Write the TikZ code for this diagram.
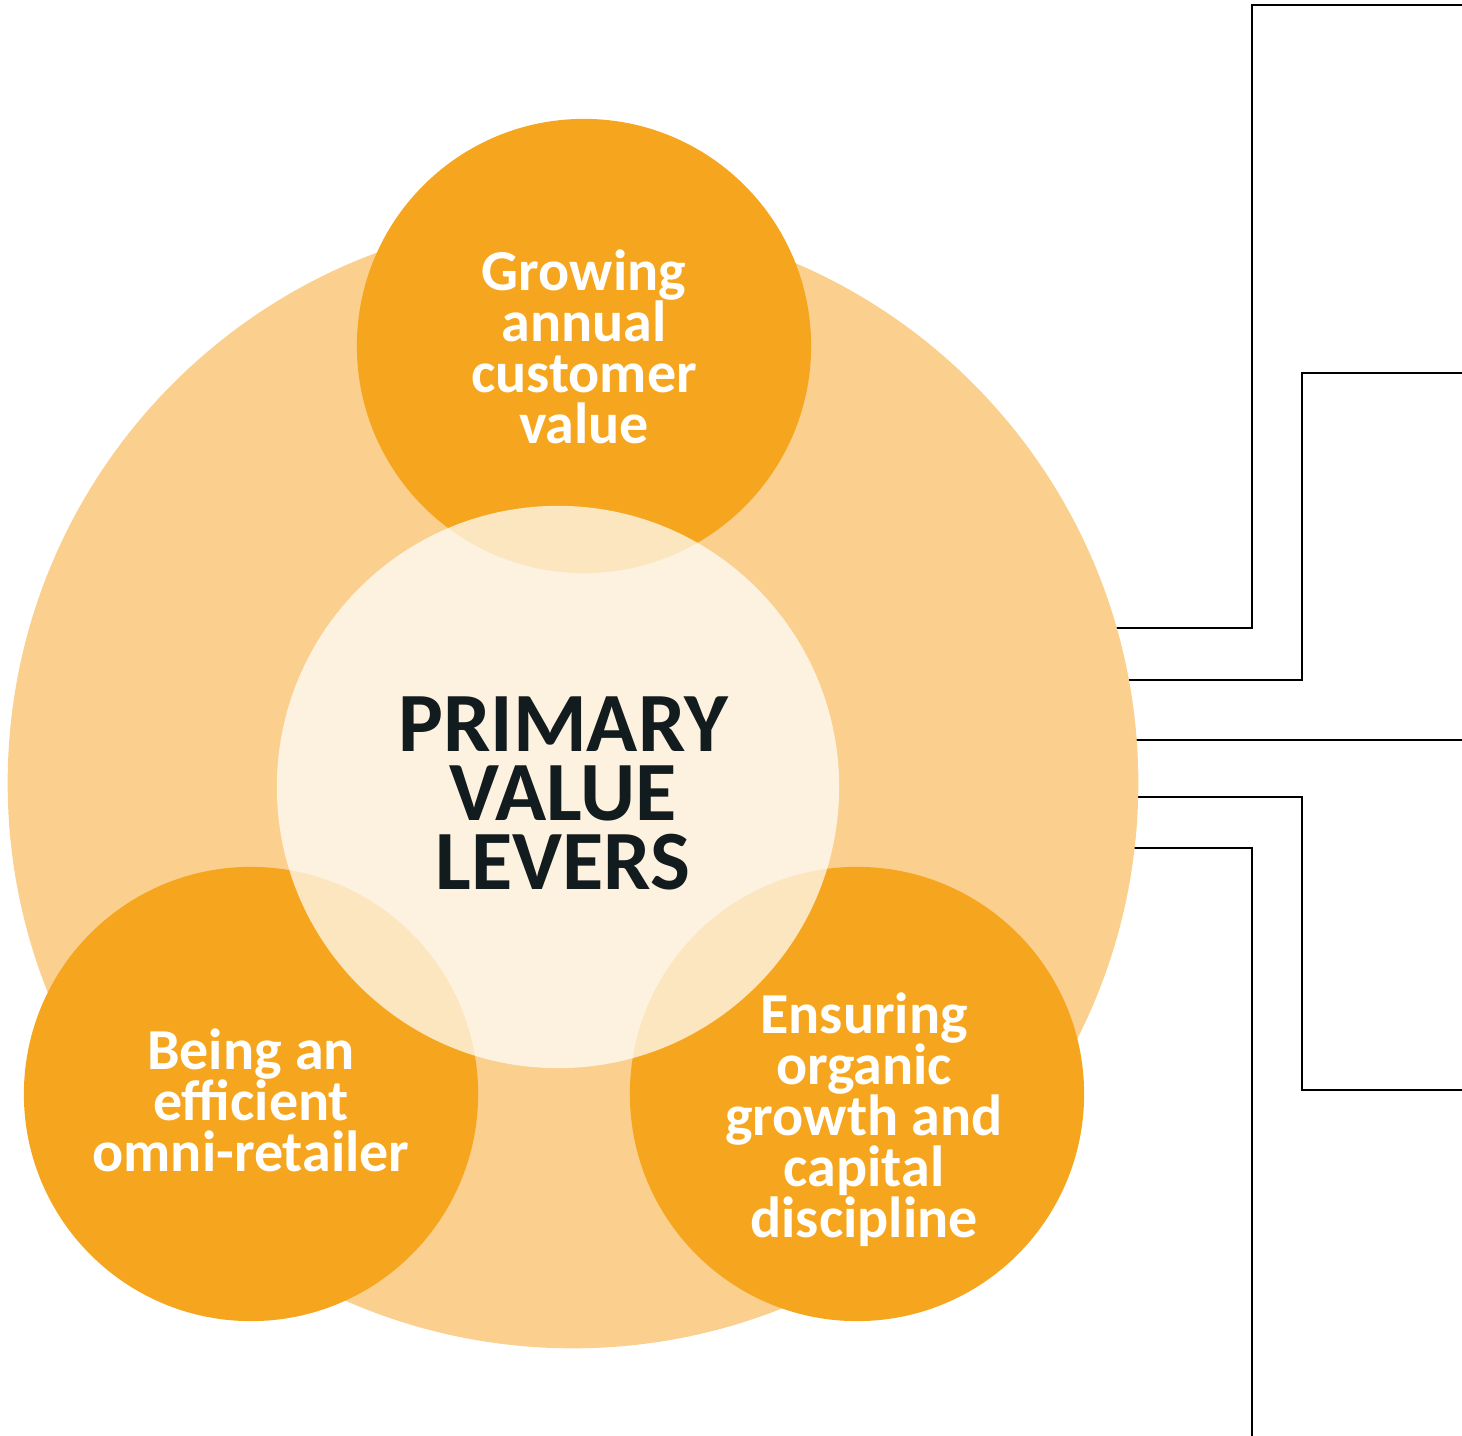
\documentclass[tikz,border=0pt]{standalone}
\usepackage{fontspec}
\setmainfont{Carlito}
\usepackage{xcolor}
\usepackage{tikz}
\usetikzlibrary{positioning}

\definecolor{leverorange}{HTML}{F6A61E}
\definecolor{leverpale}{HTML}{FBCF8E}
\definecolor{leverink}{HTML}{121B1E}

\begin{document}
\begin{tikzpicture}
    [
      x = 0.01cm, y = -0.01cm,
      disc/.style = {circle, inner sep = 0pt, draw = none},
      lever/.style = {disc, fill = leverorange, minimum size = 4.54cm},
      levertext/.style = {align = center, text = white, font = \fontsize{16.5}{14.5}\selectfont\bfseries},
      wire/.style = {draw = black, line width = 0.4pt},
    ]
    \useasboundingbox (0,0) rectangle (1462,1436);

    % connectors to the right, started under the disc so it hides their ends
    \coordinate (s1) at (1000,628);  \coordinate (k1) at (1252,5);    \coordinate (e1) at (1462,5);
    \coordinate (s2) at (1000,680);  \coordinate (k2) at (1302,373);  \coordinate (e2) at (1462,373);
    \coordinate (s3) at (1000,740);  \coordinate (e3) at (1462,740);
    \coordinate (s4) at (1000,797);  \coordinate (k4) at (1302,1090); \coordinate (e4) at (1462,1090);
    \coordinate (s5) at (1000,848);  \coordinate (e5) at (1252,1436);

    \draw[wire] (s1) -| (k1) -- (e1);
    \draw[wire] (s2) -| (k2) -- (e2);
    \draw[wire] (s3) -- (e3);
    \draw[wire] (s4) -| (k4) -- (e4);
    \draw[wire] (s5) -| (e5);

    % background disc and the three levers
    \node[disc, fill = leverpale, minimum size = 11.3cm] (big) at (573,783) {};
    \node[lever] (top) at (584,346) {};
    \node[lever] (left) at (251,1094) {};
    \node[lever] (right) at (857,1094) {};
    \node[disc, fill = white, fill opacity = 0.72, minimum size = 5.62cm] (core) at (558,787) {};

    \node[levertext] (toptext) at (584,347) {Growing\\annual\\customer\\value};
    \node[levertext] (lefttext) at (251,1100) {Being an\\efficient\\omni-retailer};
    \node[levertext] (righttext) at (864,1120) {Ensuring\\organic\\growth and\\capital\\discipline};
    \node[align = center, text = leverink, font = \fontsize{24}{19.6}\selectfont\bfseries] (coretext) at (563,793) {PRIMARY\\VALUE\\LEVERS};
  \end{tikzpicture}
\end{document}
